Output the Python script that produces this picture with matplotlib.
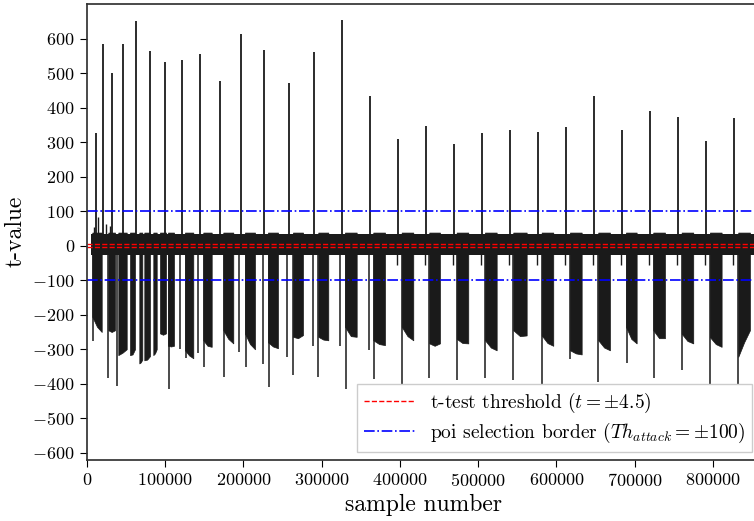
import numpy as np
import matplotlib
matplotlib.use('Agg')
import matplotlib.pyplot as plt

plt.rcParams['font.family'] = ['cmr10', 'DejaVu Serif']
plt.rcParams['mathtext.fontset'] = 'cm'
plt.rcParams['axes.formatter.use_mathtext'] = True

# positive peaks of the t-trace (sample, t-value)
spike_x = [11500, 20400, 32700, 46700, 62600, 80500, 100000, 121300, 144700,
           170300, 197400, 226400, 258000, 290500, 325700, 361800, 397200,
           433300, 468700, 504500, 540200, 576000, 611700, 647500, 683200,
           719000, 754800, 790500, 826700]
spike_h = [327, 584, 500, 584, 652, 564, 531, 539, 555, 476, 612, 566, 471,
           560, 653, 434, 310, 346, 294, 327, 334, 328, 343, 435, 335, 390,
           372, 304, 369]

# strong negative leakage regions: start, end and depth at start / middle / end
deep_start = [7150, 27590, 40360, 55300, 67180, 73560, 85050, 93610, 103830,
              125540, 148910, 174450, 202170, 231540, 263470, 295780, 329880,
              366020, 402290, 437540, 472530, 508680, 544820, 581080, 617240,
              653370, 688740, 723620, 759880, 795990, 832170]
deep_end = [19160, 36140, 51080, 61690, 71010, 80840, 89400, 101270, 111490,
            136140, 159640, 187220, 214940, 244310, 276240, 308550, 344820,
            380970, 417110, 451200, 487340, 523620, 561930, 595900, 632180,
            668310, 702410, 738560, 774700, 810930, 847110]
deep_lo_a = [-206, -245, -317, -317, -341, -332, -317, -254, -290, -303, -274,
             -245, -255, -280, -264, -264, -235, -274, -235, -283, -270, -274,
             -245, -260, -303, -274, -235, -245, -255, -265, -322]
deep_lo_m = [-235, -250, -310, -315, -338, -330, -312, -258, -292, -318, -290,
             -270, -285, -292, -268, -272, -262, -285, -262, -290, -282, -295,
             -262, -282, -312, -295, -270, -268, -276, -285, -280]
deep_lo_b = [-250, -245, -300, -300, -330, -320, -300, -254, -290, -326, -293,
             -283, -300, -297, -259, -274, -264, -288, -274, -283, -283, -303,
             -260, -290, -315, -303, -283, -268, -283, -293, -245]

# single negative peaks (sample, t-value)
neg_x = [8430, 26820, 38310, 105490, 119150, 126820, 142530, 150190, 175350,
         194890, 203450, 224770, 232820, 255420, 263080, 288620, 295780,
         323500, 330780, 360530, 366920, 402290, 437540, 472530, 508680,
         544820, 581080, 617240, 653370, 689630, 724520, 759880, 795990,
         832170]
neg_v = [-276, -384, -405, -416, -298, -326, -310, -351, -380, -307, -351,
         -343, -409, -322, -375, -290, -380, -290, -416, -302, -387, -406,
         -384, -390, -384, -390, -406, -329, -394, -341, -383, -360, -405,
         -409]

# smaller positive peaks in the first rounds
small_x = [9000, 14800, 24500, 29500]
small_v = [55, 83, 62, 58]

# base noise band
band_start = 6000
band_end = 860000
band_hi = 33
band_lo = -27

thr_ttest = 4.5
thr_poi = 100

fig = plt.figure(figsize=(7.54, 5.21), dpi=100)
ax = fig.add_axes([0.115, 0.1176, 0.893, 0.8747])

trace_c = '#1a1a1a'
ax.fill_between([band_start, band_end], [band_lo, band_lo], [band_hi, band_hi],
                color=trace_c, lw=0)
for s, e, a, m, b in zip(deep_start, deep_end, deep_lo_a, deep_lo_m, deep_lo_b):
    ax.fill_between([s, (s + e) / 2, e], [a, m, b], [38, 38, 38],
                    color=trace_c, lw=0.5)
ax.vlines(spike_x, 0, spike_h, color=trace_c, lw=1.3)
ax.vlines(neg_x, 0, neg_v, color=trace_c, lw=1.1)
ax.vlines(small_x, 0, small_v, color=trace_c, lw=1.0)
notch_x = [sx - 1300 for sx in spike_x[16:]]
ax.vlines(notch_x, 0, -55, color=trace_c, lw=1.0)

ax.axhline(thr_ttest, color='red', ls='--', lw=1.0,
           label=r't-test threshold ($t=\pm4.5$)')
ax.axhline(-thr_ttest, color='red', ls='--', lw=1.0)
ax.axhline(thr_poi, color='blue', ls='-.', lw=1.2,
           label=r'poi selection border ($Th_{attack}=\pm100$)')
ax.axhline(-thr_poi, color='blue', ls='-.', lw=1.2)

ax.set_xlim(0, 860000)
ax.set_ylim(-620, 700)
ax.set_xticks(np.arange(0, 900000, 100000))
ax.set_yticks(np.arange(-600, 700, 100))
ax.ticklabel_format(style='plain', useOffset=False)
ax.tick_params(labelsize=13, length=5)
ax.set_xlabel('sample number', fontsize=17)
ax.set_ylabel('t-value', fontsize=17)
for sp in ax.spines.values():
    sp.set_linewidth(1.25)
    sp.set_color('#333333')

ax.legend(loc='lower right', fontsize=14, fancybox=False, framealpha=1,
          edgecolor='#cccccc', labelspacing=0.3, borderpad=0.35,
          borderaxespad=0.4, handlelength=2.6)

fig.savefig('out.png', dpi=100)
